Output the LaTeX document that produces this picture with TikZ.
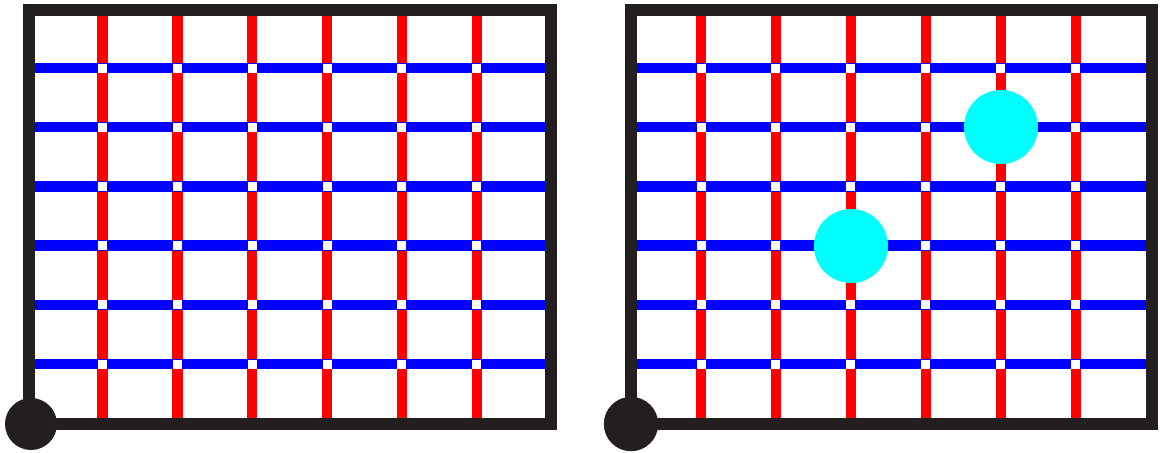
\documentclass[tikz,border=0pt]{standalone}
\definecolor{framec}{HTML}{231F20}
\definecolor{gridred}{HTML}{FF0000}
\definecolor{gridblue}{HTML}{0000FF}
\definecolor{dotcyan}{HTML}{00FFFF}
\begin{document}
\begin{tikzpicture}[x=0.5pt,y=-0.5pt,
  frameline/.style={draw=framec,line width=6pt,line join=miter,line cap=rect},
  redline/.style={draw=gridred,line width=5.2pt},
  blueline/.style={draw=gridblue,line width=5.2pt},
  gap/.style={fill=white,draw=none},
  cornerdot/.style={fill=framec,draw=none},
  cyandot/.style={fill=dotcyan,draw=none}]
\useasboundingbox (0,0) rectangle (1160,452);
% ---------- left panel ----------
\foreach \k in {0,...,5}{
  \draw[redline] ({102.5+74.86*\k},10) -- ({102.5+74.86*\k},424);
}
\foreach \j in {0,...,5}{
  \draw[blueline] (29,{68+59.2*\j}) -- (550.5,{68+59.2*\j});
}
\foreach \k in {0,...,5}{
  \foreach \j in {0,...,5}{
    \fill[gap] ({102.5+74.86*\k-4.5},{68+59.2*\j-4.5}) rectangle ++(9,9);
  }
}
\draw[frameline] (29.2,10) rectangle (550.5,424);
\fill[cornerdot] (31,424) circle[radius=13pt];
% ---------- right panel ----------
\foreach \k in {0,...,5}{
  \draw[redline] ({701+74.96*\k},10) -- ({701+74.96*\k},424);
}
\foreach \j in {0,...,5}{
  \draw[blueline] (631,{68+59.2*\j}) -- (1152,{68+59.2*\j});
}
\foreach \k in {0,...,5}{
  \foreach \j in {0,...,5}{
    \fill[gap] ({701+74.96*\k-4.5},{68+59.2*\j-4.5}) rectangle ++(9,9);
  }
}
\draw[frameline] (631,10) rectangle (1152,424);
\fill[cornerdot] (631,424) circle[radius=13.6pt];
\fill[cyandot] (1001,127) circle[radius=18.5pt];
\fill[cyandot] (851,246) circle[radius=18.5pt];
\end{tikzpicture}
\end{document}
